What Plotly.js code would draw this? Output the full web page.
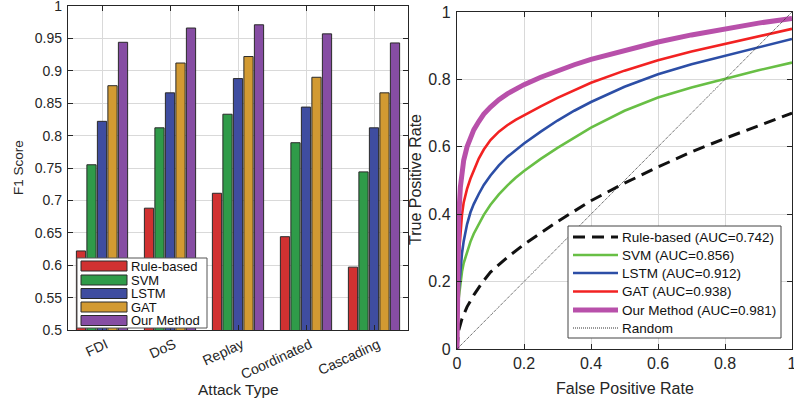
<!DOCTYPE html>
<html>
<head>
<meta charset="utf-8">
<script src="https://cdn.plot.ly/plotly-3.0.1.min.js"></script>
<style>
  html, body { margin: 0; padding: 0; background: #ffffff; }
  #chart { width: 794px; height: 404px; }
</style>
</head>
<body>
<div id="chart"></div>
<script>
// ---- F1 scores per attack type ----
const attackTypes = ['FDI', 'DoS', 'Replay', 'Coordinated', 'Cascading'];
const methodNames = ['Rule-based', 'SVM', 'LSTM', 'GAT', 'Our Method'];
const f1RuleBased = [0.622, 0.688, 0.711, 0.644, 0.597];
const f1SVM       = [0.755, 0.812, 0.833, 0.789, 0.744];
const f1LSTM      = [0.822, 0.866, 0.888, 0.844, 0.812];
const f1GAT       = [0.877, 0.912, 0.922, 0.890, 0.866];
const f1Ours      = [0.944, 0.966, 0.971, 0.957, 0.943];
const f1Ticks     = [0.5, 0.55, 0.6, 0.65, 0.7, 0.75, 0.8, 0.85, 0.9, 0.95, 1];

// ---- ROC curves ----
const rocFPR  = [0, 0.001, 0.0025, 0.005, 0.01, 0.015, 0.02, 0.03, 0.04, 0.05, 0.065, 0.08, 0.1,
                 0.125, 0.15, 0.175, 0.2, 0.25, 0.3, 0.35, 0.4, 0.5, 0.6, 0.7, 0.8, 0.9, 1.0];
const tprSVM  = [0, 0.07, 0.11, 0.15, 0.20, 0.23, 0.255, 0.29, 0.318, 0.342, 0.372, 0.398, 0.428,
                 0.459, 0.485, 0.508, 0.528, 0.564, 0.597, 0.628, 0.657, 0.707, 0.746, 0.776, 0.802, 0.827, 0.85];
const tprLSTM = [0, 0.07, 0.12, 0.17, 0.235, 0.285, 0.32, 0.37, 0.405, 0.43, 0.46, 0.487, 0.515,
                 0.545, 0.57, 0.591, 0.61, 0.645, 0.678, 0.707, 0.733, 0.778, 0.815, 0.845, 0.87, 0.896, 0.92];
const tprGAT  = [0, 0.12, 0.20, 0.27, 0.35, 0.40, 0.435, 0.475, 0.505, 0.53, 0.565, 0.592, 0.62,
                 0.645, 0.664, 0.68, 0.694, 0.72, 0.745, 0.768, 0.79, 0.826, 0.857, 0.883, 0.906, 0.929, 0.95];
const tprOurs = [0, 0.20, 0.30, 0.39, 0.48, 0.525, 0.56, 0.60, 0.628, 0.65, 0.675, 0.697, 0.718,
                 0.74, 0.757, 0.772, 0.7845, 0.8065, 0.826, 0.8435, 0.8595, 0.887, 0.911, 0.932, 0.951, 0.967, 0.981];
const ruleFPR = [0, 0.005, 0.015, 0.03, 0.05, 0.075, 0.1, 0.15, 0.2, 0.3, 0.4, 0.5, 0.6, 0.7, 0.8, 0.9, 1.0];
const tprRule = [0, 0.055, 0.09, 0.125, 0.16, 0.197, 0.228, 0.272, 0.31, 0.378, 0.44, 0.492, 0.54, 0.585, 0.625, 0.663, 0.70];
const randomLine = [0, 1];
const aucValues = [0.742, 0.856, 0.912, 0.938, 0.981];
const rocTicks = [0, 0.2, 0.4, 0.6, 0.8, 1];

// ---- styling ----
const W = 794, H = 404;
const FONT = 'Liberation Sans, Arial, Helvetica, sans-serif';
const INK = '#262626';
const barColors = ['#d13131', '#2f9b49', '#3f4da0', '#d29a32', '#864da3'];
const rocColors = ['#111111', '#68bf45', '#2c4ea6', '#f22222', '#b850aa', '#333333'];
const px = x => x / W;
const py = y => 1 - y / H;

const f1Series = [f1RuleBased, f1SVM, f1LSTM, f1GAT, f1Ours];
const traces = [];

f1Series.forEach((vals, i) => {
  traces.push({
    type: 'bar', x: attackTypes, y: vals, name: methodNames[i],
    xaxis: 'x', yaxis: 'y', showlegend: false,
    marker: { color: barColors[i], line: { color: '#2a2a2a', width: 1 } },
    hoverinfo: 'skip'
  });
});

const rocStyles = [
  { width: 3,   dash: '12px,7px' },
  { width: 2.6, dash: 'solid' },
  { width: 2.6, dash: 'solid' },
  { width: 2.6, dash: 'solid' },
  { width: 5,   dash: 'solid' },
  { width: 1,   dash: '1px,1px' }
];
const rocSeries = [
  { x: ruleFPR, y: tprRule },
  { x: rocFPR, y: tprSVM },
  { x: rocFPR, y: tprLSTM },
  { x: rocFPR, y: tprGAT },
  { x: rocFPR, y: tprOurs },
  { x: randomLine, y: randomLine }
];
const rocNames = methodNames.map((n, i) => n + ' (AUC=' + aucValues[i].toFixed(3) + ')').concat(['Random']);

rocSeries.forEach((s, i) => {
  traces.push({
    type: 'scatter', mode: 'lines', x: s.x, y: s.y, name: rocNames[i],
    xaxis: 'x2', yaxis: 'y2', showlegend: false,
    line: { color: rocColors[i], width: rocStyles[i].width, dash: rocStyles[i].dash },
    hoverinfo: 'skip'
  });
});

const shapes = [];
const annotations = [];

// ---- legend for the bar panel ----
shapes.push({
  type: 'rect', xref: 'paper', yref: 'paper', layer: 'above',
  x0: px(77), x1: px(207), y0: py(328), y1: py(258),
  fillcolor: '#ffffff', line: { color: '#555555', width: 1 }
});
const barRowY = [266, 280, 293.5, 307, 320.5];
methodNames.forEach((name, i) => {
  shapes.push({
    type: 'rect', xref: 'paper', yref: 'paper', layer: 'above',
    x0: px(81), x1: px(127), y0: py(barRowY[i] + 5), y1: py(barRowY[i] - 5),
    fillcolor: barColors[i], line: { color: '#2a2a2a', width: 1 }
  });
  annotations.push({
    xref: 'paper', yref: 'paper', x: px(130), y: py(barRowY[i]),
    xanchor: 'left', yanchor: 'middle', showarrow: false, borderpad: 0,
    text: name, font: { family: FONT, size: 13, color: '#111111' }
  });
});

// ---- legend for the ROC panel ----
shapes.push({
  type: 'rect', xref: 'paper', yref: 'paper', layer: 'above',
  x0: px(568), x1: px(781), y0: py(338), y1: py(226),
  fillcolor: '#ffffff', line: { color: '#444444', width: 1 }
});
const rocRowY = [237, 255, 273, 291.5, 310, 328];
rocNames.forEach((name, i) => {
  shapes.push({
    type: 'line', xref: 'paper', yref: 'paper', layer: 'above',
    x0: px(573), x1: px(618), y0: py(rocRowY[i]), y1: py(rocRowY[i]),
    line: { color: rocColors[i], width: rocStyles[i].width, dash: rocStyles[i].dash }
  });
  annotations.push({
    xref: 'paper', yref: 'paper', x: px(621), y: py(rocRowY[i]),
    xanchor: 'left', yanchor: 'middle', showarrow: false, borderpad: 0,
    text: name, font: { family: FONT, size: 13.5, color: '#111111' }
  });
});

// ---- axis titles ----
annotations.push(
  { xref: 'paper', yref: 'paper', x: px(19), y: py(168), textangle: -90,
    xanchor: 'center', yanchor: 'middle', showarrow: false,
    text: 'F1 Score', font: { family: FONT, size: 13.5, color: INK } },
  { xref: 'paper', yref: 'paper', x: px(238), y: py(389),
    xanchor: 'center', yanchor: 'middle', showarrow: false,
    text: 'Attack Type', font: { family: FONT, size: 15.5, color: INK } },
  { xref: 'paper', yref: 'paper', x: px(416), y: py(180), textangle: -90,
    xanchor: 'center', yanchor: 'middle', showarrow: false,
    text: 'True Positive Rate', font: { family: FONT, size: 16, color: INK } },
  { xref: 'paper', yref: 'paper', x: px(624.5), y: py(388),
    xanchor: 'center', yanchor: 'middle', showarrow: false,
    text: 'False Positive Rate', font: { family: FONT, size: 16, color: INK } }
);

const axisCommon = {
  showline: true, mirror: 'ticks', linecolor: INK, linewidth: 1.2,
  ticks: 'inside', ticklen: 5, tickwidth: 1, tickcolor: INK,
  showgrid: true, gridcolor: '#d9d9d9', gridwidth: 1,
  zeroline: false, fixedrange: true, automargin: false,
  ticklabeloverflow: 'allow'
};

const layout = {
  width: W, height: H, autosize: false,
  margin: { l: 0, r: 0, t: 0, b: 0, pad: 0 },
  paper_bgcolor: '#ffffff', plot_bgcolor: '#ffffff',
  font: { family: FONT, color: INK },
  barmode: 'group', bargap: 0.228, bargroupgap: 0.12,
  showlegend: false,
  xaxis: Object.assign({}, axisCommon, {
    domain: [px(68), px(408)], anchor: 'y', type: 'category',
    categoryarray: attackTypes, range: [-0.5, 4.5],
    tickangle: -25, ticklabelshift: 4,
    tickfont: { family: FONT, size: 14, color: INK }
  }),
  yaxis: Object.assign({}, axisCommon, {
    domain: [py(330), py(6)], anchor: 'x', range: [0.5, 1],
    tickmode: 'array', tickvals: f1Ticks, ticktext: f1Ticks.map(String),
    ticklabelstandoff: 2,
    tickfont: { family: FONT, size: 14, color: INK }
  }),
  xaxis2: Object.assign({}, axisCommon, {
    domain: [px(457), px(792)], anchor: 'y2', range: [0, 1],
    tickmode: 'array', tickvals: rocTicks, ticktext: rocTicks.map(String),
    tickfont: { family: FONT, size: 16, color: INK }
  }),
  yaxis2: Object.assign({}, axisCommon, {
    domain: [py(349), py(12)], anchor: 'x2', range: [0, 1],
    tickmode: 'array', tickvals: rocTicks, ticktext: rocTicks.map(String),
    ticklabelstandoff: 2,
    tickfont: { family: FONT, size: 16, color: INK }
  }),
  shapes: shapes,
  annotations: annotations
};

Plotly.newPlot('chart', traces, layout, { staticPlot: true, displayModeBar: false });
</script>
</body>
</html>
